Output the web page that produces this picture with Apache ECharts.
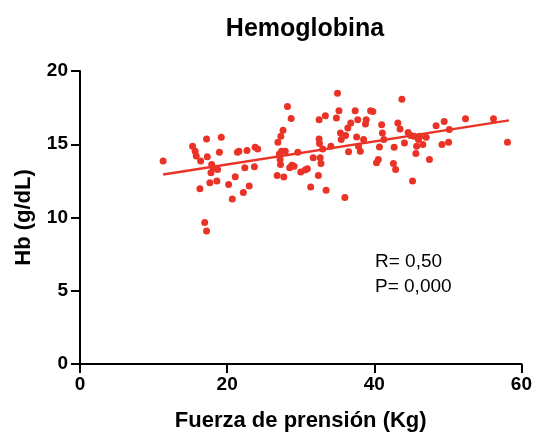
<!DOCTYPE html>
<html>
<head>
<meta charset="utf-8">
<script src="https://cdn.jsdelivr.net/npm/echarts@6/dist/echarts.min.js"></script>
<style>
html,body{margin:0;padding:0;background:#fff;}
#c{width:535px;height:437px;}
</style>
</head>
<body>
<div id="c"></div>
<script>
var titleText = "Hemoglobina";
var xName = "Fuerza de prensión (Kg)";
var yName = "Hb (g/dL)";
var statsLines = ["R= 0,50", "P= 0,000"];

var fuerza = [11.3,15.3,15.65,15.8,16.4,17.2,17.3,16.3,16.95,17.2,17.65,17.8,17.9,18.1,18.6,18.7,18.95,19.2,20.2,20.7,21.1,21.4,21.6,22.2,22.4,22.7,23.0,23.7,23.8,24.15,26.8,26.9,27.1,27.2,27.25,27.3,27.4,27.6,27.7,27.9,28.2,28.7,28.5,28.8,29.1,29.6,30.0,30.6,30.9,31.35,31.7,32.4,32.5,32.5,32.55,32.65,32.75,32.98,33.35,33.45,34.1,34.85,35.0,35.2,35.4,35.5,36.0,36.1,36.4,36.5,36.8,37.4,37.6,37.75,37.85,38.1,38.55,38.8,38.9,39.5,39.8,40.3,40.55,40.7,41.0,41.1,41.3,42.6,42.7,42.9,43.2,43.5,43.75,44.1,44.6,44.95,45.2,45.4,45.65,45.75,46.0,46.2,46.6,47.05,47.5,48.4,49.2,49.5,50.1,50.2,52.4,56.2,58.1];
var hb = [13.85,14.86,14.52,14.19,13.85,15.36,14.14,11.97,9.66,9.07,12.38,13.05,13.62,13.39,12.49,13.28,14.46,15.48,12.26,11.27,12.78,14.46,14.52,11.7,13.39,14.57,12.15,13.46,14.8,14.68,12.87,15.14,14.34,13.96,13.62,15.54,14.52,15.95,12.76,14.52,17.58,16.76,13.39,13.57,13.5,14.46,13.1,13.24,13.33,12.08,14.07,12.87,16.67,15.36,15.05,14.07,13.69,14.68,16.95,11.86,14.86,16.79,18.48,17.29,15.77,15.32,11.36,15.59,16.11,14.48,16.45,17.29,15.5,16.67,14.86,14.52,15.32,16.38,16.67,17.29,17.24,13.73,13.96,14.82,16.33,15.77,15.32,13.69,14.8,13.28,16.45,16.04,18.08,15.09,15.81,15.59,12.49,15.54,14.37,14.86,15.32,15.54,14.98,15.48,13.96,16.27,14.98,16.56,15.14,16.0,16.74,16.74,15.14];
var fitX = [11.3, 58.3];
var fitY = [12.94, 16.63];

var pts = fuerza.map(function(x,i){return [x, hb[i]];});
var fitPts = fitX.map(function(x,i){return [x, fitY[i]];});

var chart = echarts.init(document.getElementById('c'), null, {renderer:'canvas'});
var fam = 'Liberation Sans, Arial, sans-serif';
chart.setOption({
  animation:false,
  backgroundColor:'#fff',
  title:{text:titleText, left:300, top:12, textAlign:'center',
    textStyle:{fontFamily:fam, fontWeight:'bold', fontSize:25, color:'#000'}},
  grid:{left:80, right:13, top:71, bottom:71, containLabel:false},
  xAxis:{type:'value', min:0, max:60, interval:20,
    name:xName, nameLocation:'middle', nameGap:46,
    nameTextStyle:{fontFamily:fam, fontWeight:'bold', fontSize:22, color:'#000'},
    axisLine:{show:true, onZero:false, lineStyle:{color:'#000', width:2}},
    axisTick:{show:true, length:9, lineStyle:{color:'#000', width:2}},
    axisLabel:{margin:11, fontFamily:fam, fontWeight:'bold', fontSize:19, color:'#000'},
    splitLine:{show:false}},
  yAxis:{type:'value', min:0, max:20, interval:5,
    name:yName, nameLocation:'middle', nameGap:45, nameRotate:90,
    nameTextStyle:{fontFamily:fam, fontWeight:'bold', fontSize:22, color:'#000'},
    axisLine:{show:true, onZero:false, lineStyle:{color:'#000', width:2}},
    axisTick:{show:true, length:9, lineStyle:{color:'#000', width:2}},
    axisLabel:{margin:12, fontFamily:fam, fontWeight:'bold', fontSize:19, color:'#000'},
    splitLine:{show:false}},
  series:[
    {type:'scatter', data:pts, symbol:'circle', symbolSize:7,
      itemStyle:{color:'#ea3327', opacity:1}, z:3},
    {type:'line', data:fitPts, symbol:'none', lineStyle:{color:'#ea3327', width:2.5}, z:2}
  ],
  graphic:[
    {type:'text', left:375, top:249, style:{text:statsLines.join('\n'), lineHeight:25,
      font:'19px "Liberation Sans", Arial, sans-serif', fill:'#000'}}
  ]
});
</script>
</body>
</html>
